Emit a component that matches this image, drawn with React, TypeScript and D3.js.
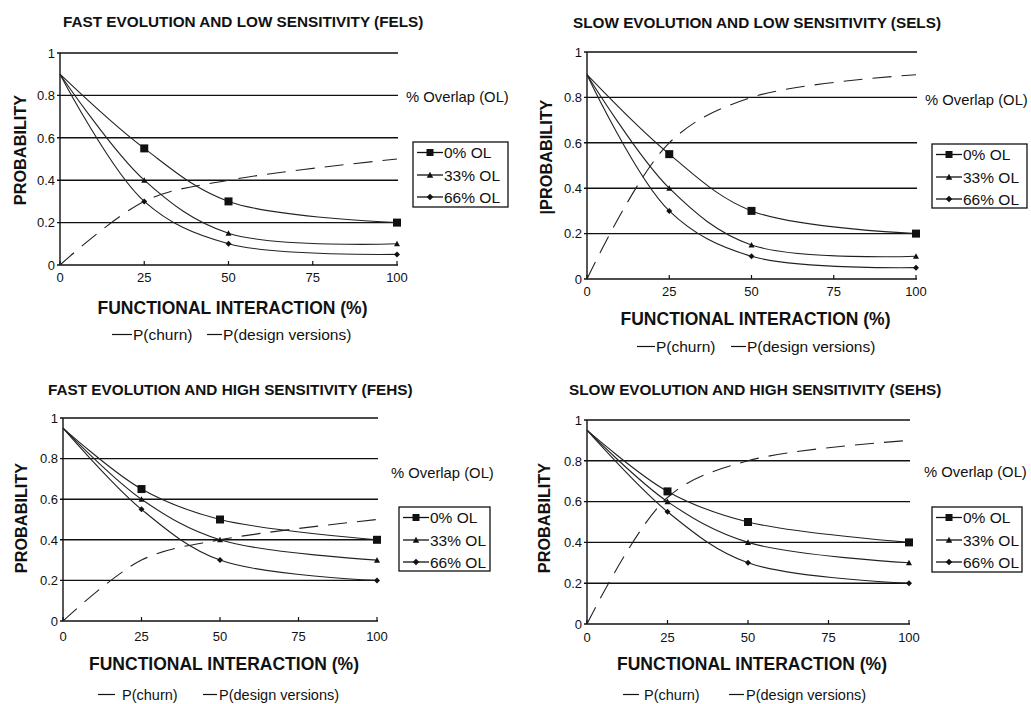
import React from "react";
import * as d3 from "d3";

// ---------- data ----------
const xValues = [0, 25, 50, 100];
const xTickValues = [0, 25, 50, 75, 100];
const yTickValues = [0, 0.2, 0.4, 0.6, 0.8, 1];
const overlapLabels = ["0% OL", "33% OL", "66% OL"];
const markerTypes = ["square", "triangle", "diamond"];
const panelTitles = [
  "FAST EVOLUTION AND LOW SENSITIVITY (FELS)",
  "SLOW EVOLUTION AND LOW SENSITIVITY (SELS)",
  "FAST EVOLUTION AND HIGH SENSITIVITY (FEHS)",
  "SLOW EVOLUTION AND HIGH SENSITIVITY (SEHS)",
];
const yAxisTitles = ["PROBABILITY", "|PROBABILITY", "PROBABILITY", "PROBABILITY"];
const xAxisTitle = "FUNCTIONAL INTERACTION (%)";
const overlapTitle = "% Overlap (OL)";
const bottomLegend = ["P(churn)", "P(design versions)"];

const felsChurn0 = [0.9, 0.55, 0.3, 0.2];
const felsChurn33 = [0.9, 0.4, 0.15, 0.1];
const felsChurn66 = [0.9, 0.3, 0.1, 0.05];
const felsDesign = [0, 0.3, 0.4, 0.5];

const selsChurn0 = [0.9, 0.55, 0.3, 0.2];
const selsChurn33 = [0.9, 0.4, 0.15, 0.1];
const selsChurn66 = [0.9, 0.3, 0.1, 0.05];
const selsDesign = [0, 0.6, 0.8, 0.9];

const fehsChurn0 = [0.95, 0.65, 0.5, 0.4];
const fehsChurn33 = [0.95, 0.6, 0.4, 0.3];
const fehsChurn66 = [0.95, 0.55, 0.3, 0.2];
const fehsDesign = [0, 0.3, 0.4, 0.5];

const sehsChurn0 = [0.95, 0.65, 0.5, 0.4];
const sehsChurn33 = [0.95, 0.6, 0.4, 0.3];
const sehsChurn66 = [0.95, 0.55, 0.3, 0.2];
const sehsDesign = [0, 0.62, 0.8, 0.9];

const churnSets = [
  [felsChurn0, felsChurn33, felsChurn66],
  [selsChurn0, selsChurn33, selsChurn66],
  [fehsChurn0, fehsChurn33, fehsChurn66],
  [sehsChurn0, sehsChurn33, sehsChurn66],
];
const designSets = [felsDesign, selsDesign, fehsDesign, sehsDesign];

// ---------- layout ----------
const layouts = [
  { x0: 60, x1: 397, y0: 265, y1: 53, titleX: 63, titleB: 27, yLabX: 26, yLabY: 150, olX: 406, olB: 102, box: [413, 142, 95, 65], tickB: 282, xTitleB: 314, legB: 340, leg: [112, 132, 133, 207, 222, 223] },
  { x0: 587, x1: 916, y0: 279, y1: 52, titleX: 573, titleB: 28, yLabX: 552, yLabY: 157, olX: 925, olB: 105, box: [932, 144, 95, 64], tickB: 296, xTitleB: 325, legB: 352, leg: [637, 655, 656, 731, 746, 747] },
  { x0: 63, x1: 377, y0: 621, y1: 418, titleX: 48, titleB: 395, yLabX: 27, yLabY: 518, olX: 391, olB: 478, box: [399, 507, 91, 64], tickB: 641, xTitleB: 670, legB: 700, leg: [98, 115, 122, 203, 217, 219] },
  { x0: 587, x1: 909, y0: 624, y1: 420, titleX: 569, titleB: 395, yLabX: 550, yLabY: 518, olX: 924, olB: 477, box: [932, 507, 90, 65], tickB: 642, xTitleB: 670, legB: 700, leg: [623, 639, 644, 729, 744, 746] },
];

const FONT = "'Liberation Sans', Arial, Helvetica, sans-serif";
const INK = "#111";

function Marker({ type, x, y, s }: { type: string; x: number; y: number; s: number }) {
  if (type === "square") {
    return <rect x={x - s / 2} y={y - s / 2} width={s} height={s} fill={INK} />;
  }
  if (type === "triangle") {
    const h = s * 0.85;
    return (
      <path
        d={`M${x},${y - h / 2 - 0.5} L${x + s / 2},${y + h / 2} L${x - s / 2},${y + h / 2} Z`}
        fill={INK}
      />
    );
  }
  const r = s / 2;
  return <path d={`M${x},${y - r} L${x + r},${y} L${x},${y + r} L${x - r},${y} Z`} fill={INK} />;
}

function Panel({ idx }: { idx: number }) {
  const L = layouts[idx];
  const xs = d3.scaleLinear().domain([0, 100]).range([L.x0, L.x1]);
  const ys = d3.scaleLinear().domain([0, 1]).range([L.y0, L.y1]);
  const line = d3
    .line<[number, number]>()
    .x((d) => xs(d[0]))
    .y((d) => ys(d[1]))
    .curve(d3.curveCatmullRom.alpha(0.5));

  const churn = churnSets[idx];
  const design = designSets[idx];
  const [bx, by, bw, bh] = L.box;
  const rowYs = [by + 10.5, by + 33, by + 55];
  const [l1a, l1b, t1, l2a, l2b, t2] = L.leg;
  const bottom = idx >= 2;

  return (
    <g>
      <text x={L.titleX} y={L.titleB} fontFamily={FONT} fontWeight="bold" fontSize={15.3} fill={INK}>
        {panelTitles[idx]}
      </text>

      {/* gridlines */}
      {yTickValues.filter((v) => v > 0).map((v) => (
        <line key={v} x1={L.x0 - 3} x2={L.x1 + 1} y1={ys(v)} y2={ys(v)} stroke={INK} strokeWidth={1.4} />
      ))}
      {/* axes */}
      <line x1={L.x0} x2={L.x0} y1={ys(1)} y2={ys(0)} stroke={INK} strokeWidth={1.4} />
      <line x1={L.x0 - 3} x2={L.x1 + 1} y1={ys(0)} y2={ys(0)} stroke={INK} strokeWidth={1.6} />
      {xTickValues.map((v) => (
        <line key={v} x1={xs(v)} x2={xs(v)} y1={ys(0)} y2={ys(0) - 4} stroke={INK} strokeWidth={1.2} />
      ))}
      {yTickValues.map((v) => (
        <text key={v} x={L.x0 - 5} y={ys(v) + 4.7} textAnchor="end" fontFamily={FONT} fontSize={13} fill={INK}>
          {String(v)}
        </text>
      ))}
      {xTickValues.map((v) => (
        <text key={v} x={xs(v)} y={L.tickB} textAnchor="middle" fontFamily={FONT} fontSize={13} fill={INK}>
          {String(v)}
        </text>
      ))}

      {/* design versions dashed */}
      <path
        d={line(xValues.map((x, i) => [x, design[i]] as [number, number])) || ""}
        fill="none"
        stroke="#222"
        strokeWidth={1.1}
        strokeDasharray="19,10"
      />
      {/* churn curves */}
      {churn.map((series, si) => (
        <g key={si}>
          <path
            d={line(xValues.map((x, i) => [x, series[i]] as [number, number])) || ""}
            fill="none"
            stroke="#222"
            strokeWidth={1.1}
          />
          {xValues.map((x, i) =>
            i === 0 ? null : (
              <Marker key={i} type={markerTypes[si]} x={xs(x)} y={ys(series[i])} s={si === 0 ? 8 : 6} />
            )
          )}
        </g>
      ))}

      {/* y axis title */}
      <text
        transform={`translate(${L.yLabX},${L.yLabY}) rotate(-90)`}
        textAnchor="middle"
        fontFamily={FONT}
        fontWeight="bold"
        fontSize={16.3}
        fill={INK}
      >
        {yAxisTitles[idx]}
      </text>

      {/* x axis title */}
      <text
        x={(L.x0 + L.x1) / 2 + 4}
        y={L.xTitleB}
        textAnchor="middle"
        fontFamily={FONT}
        fontWeight="bold"
        fontSize={17.5}
        fill={INK}
      >
        {xAxisTitle}
      </text>

      {/* overlap title */}
      <text x={L.olX} y={L.olB} fontFamily={FONT} fontSize={14.8} fill={INK}>
        {overlapTitle}
      </text>

      {/* legend box */}
      <rect x={bx} y={by} width={bw} height={bh} fill="white" stroke={INK} strokeWidth={1.3} />
      {overlapLabels.map((lab, i) => (
        <g key={lab}>
          <line x1={bx + 4} x2={bx + 30} y1={rowYs[i]} y2={rowYs[i]} stroke={INK} strokeWidth={1.3} />
          <Marker type={markerTypes[i]} x={bx + 17} y={rowYs[i]} s={i === 0 ? 7 : 6.5} />
          <text x={bx + 31} y={rowYs[i] + 5.5} fontFamily={FONT} fontSize={15.5} fill={INK}>
            {lab}
          </text>
        </g>
      ))}

      {/* bottom legend */}
      <line x1={l1a} x2={l1b} y1={L.legB - 5.5} y2={L.legB - 5.5} stroke={INK} strokeWidth={1.2} />
      <text x={t1} y={L.legB} fontFamily={FONT} fontSize={bottom ? 14.5 : 15.5} fill={INK}>
        {bottomLegend[0]}
      </text>
      <line x1={l2a} x2={l2b} y1={L.legB - 5.5} y2={L.legB - 5.5} stroke={INK} strokeWidth={1.2} />
      <text x={t2} y={L.legB} fontFamily={FONT} fontSize={bottom ? 14.5 : 15.5} fill={INK}>
        {bottomLegend[1]}
      </text>
    </g>
  );
}

export default function App() {
  return (
    <svg width={1031} height={704} style={{ position: "absolute", left: 0, top: 0, background: "white" }}>
      <rect x={0} y={0} width={1031} height={704} fill="white" />
      {layouts.map((_, i) => (
        <Panel key={i} idx={i} />
      ))}
    </svg>
  );
}
